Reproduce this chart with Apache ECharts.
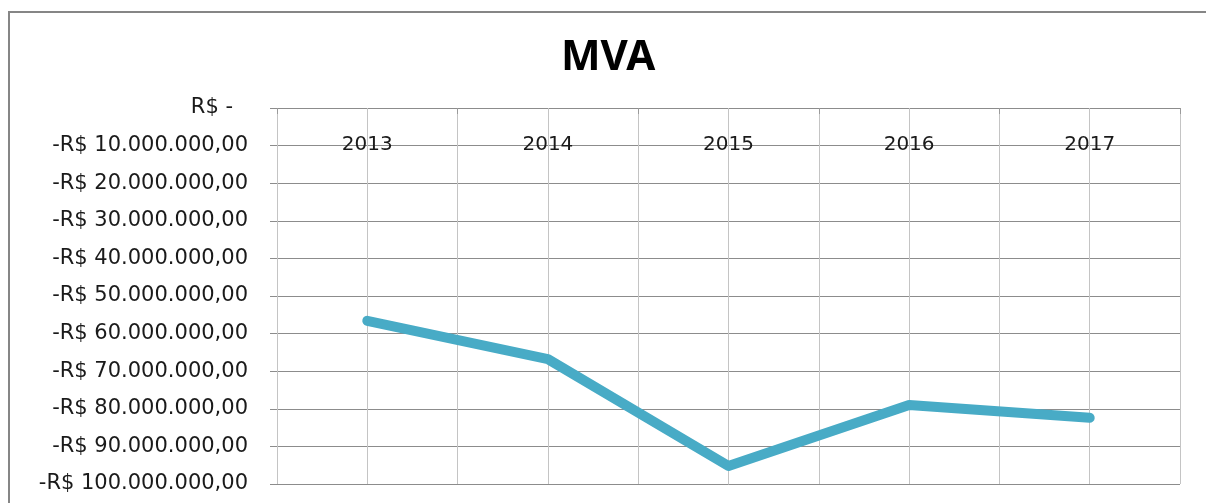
<!DOCTYPE html>
<html>
<head>
<meta charset="utf-8">
<script src="https://cdn.jsdelivr.net/npm/echarts@6/dist/echarts.min.js"></script>
<style>
  html, body { margin: 0; padding: 0; background: #fff; }
  #mvaChart { width: 1206px; height: 503px; }
</style>
</head>
<body>
<div id="mvaChart"></div>
<script>
  // valores
  var anos = ['2013', '2014', '2015', '2016', '2017'];
  var mva = [-56600000, -66800000, -95200000, -79000000, -82400000];
  var yMin = -100000000;
  var yMax = 0;
  var yStep = 10000000;

  function formatReal(v) {
    if (v === 0) return '{z|R$ -}';
    var n = Math.abs(v).toFixed(0).replace(/\B(?=(\d{3})+(?!\d))/g, '.');
    return (v < 0 ? '-' : '') + 'R$ ' + n + ',00';
  }

  var myChart = echarts.init(document.getElementById('mvaChart'));
  var font = '"DejaVu Sans", sans-serif';
  var option = {
    backgroundColor: '#fff',
    animation: false,
    title: {
      text: 'MVA',
      left: 556,
      top: 32,
      textStyle: { fontFamily: '"Noto Sans", sans-serif', fontSize: 42, fontWeight: 'bold', color: '#000' }
    },
    graphic: [{
      type: 'rect',
      shape: { x: 9, y: 12, width: 1240, height: 560 },
      style: { fill: 'none', stroke: '#868686', lineWidth: 2 },
      silent: true
    }],
    grid: { left: 277, right: 26, top: 108, bottom: 19 },
    xAxis: [{
      type: 'category',
      data: anos,
      position: 'top',
      boundaryGap: true,
      axisLine: { show: false },
      axisTick: { show: true, inside: true, length: 6, lineStyle: { color: '#9a9a9a' } },
      axisLabel: { inside: true, margin: 27, color: '#1a1a1a', fontFamily: font, fontSize: 20 },
      splitLine: { show: false }
    }, {
      // linhas verticais de grade (limites e centros das categorias)
      type: 'value',
      min: 0,
      max: 10,
      interval: 1,
      show: true,
      axisLine: { show: false },
      axisTick: { show: false },
      axisLabel: { show: false },
      splitLine: { show: true, lineStyle: { color: '#c4c4c4', width: 1 } }
    }],
    yAxis: {
      type: 'value',
      min: yMin,
      max: yMax,
      interval: yStep,
      axisLine: { show: false },
      axisTick: { show: true, length: 7, lineStyle: { color: '#8c8c8c' } },
      axisLabel: {
        margin: 29,
        color: '#1a1a1a',
        fontFamily: font,
        fontSize: 21,
        formatter: formatReal,
        rich: { z: { fontFamily: font, fontSize: 21, color: '#1a1a1a', padding: [0, 15, 0, 0] } }
      },
      splitLine: { show: true, lineStyle: { color: '#8c8c8c', width: 1 } }
    },
    series: [{
      name: 'MVA',
      type: 'line',
      xAxisIndex: 0,
      data: mva,
      showSymbol: false,
      symbol: 'none',
      lineStyle: { color: '#48abc6', width: 10, cap: 'round', join: 'round' },
      z: 5
    }]
  };
  myChart.setOption(option);
</script>
</body>
</html>
